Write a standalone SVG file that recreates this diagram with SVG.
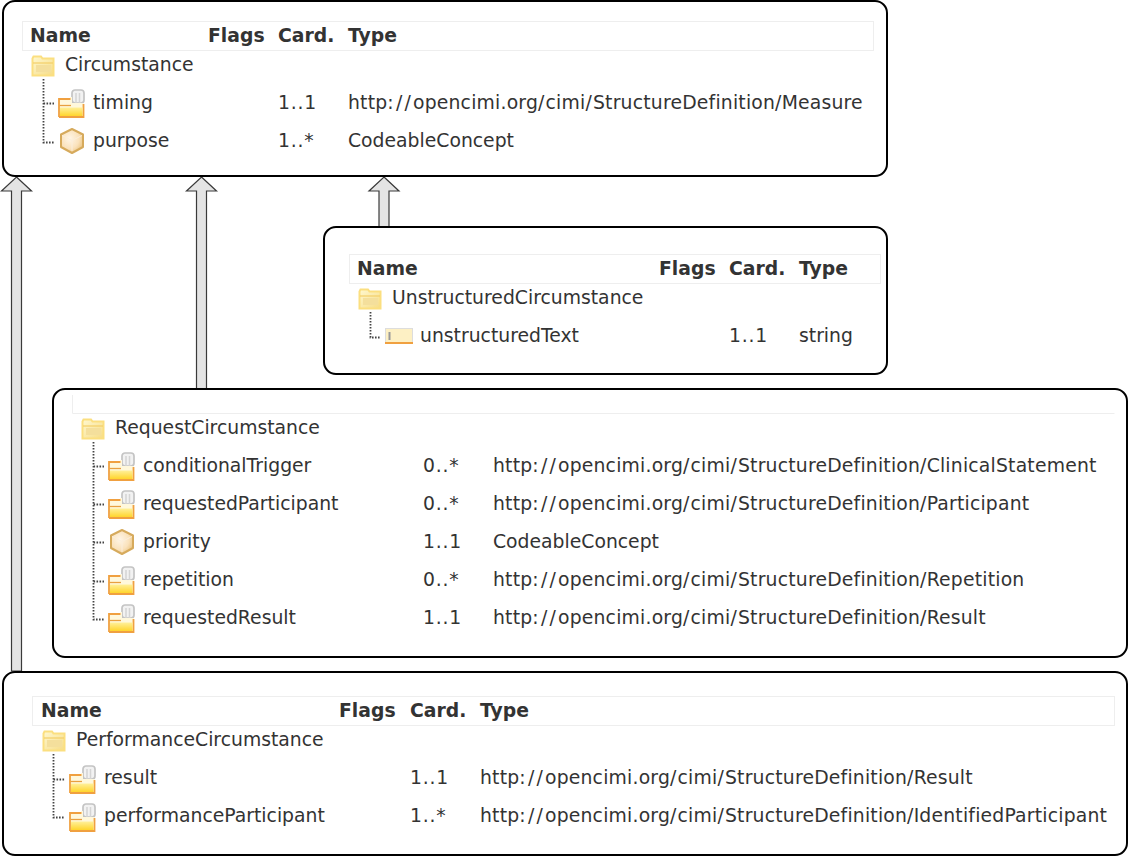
<svg xmlns="http://www.w3.org/2000/svg" xmlns:xlink="http://www.w3.org/1999/xlink" width="1128" height="856" viewBox="0 0 1128 856">
<style>
text{font-family:"DejaVu Sans",Verdana,sans-serif;font-size:18.8px;fill:#333}
.h{font-weight:700;font-size:18.8px}
.c{letter-spacing:.75px}
.u{letter-spacing:.2px}
.box{fill:#fff;stroke:#000;stroke-width:2}
.hdr{fill:#fff;stroke:#eee;stroke-width:1}
.arr{fill:#e4e4e4;stroke:#3a3a3a;stroke-width:1.200}
.dot{fill:none;stroke:#444;stroke-width:1.800;stroke-dasharray:1.600 1.400}
</style>
<defs>
<linearGradient id="fy" x1="0" y1="0" x2="1" y2="1"><stop offset="0" stop-color="#fff8cf"/><stop offset="1" stop-color="#f6dc86"/></linearGradient>
<linearGradient id="fo" x1="0" y1="0" x2="0" y2="1"><stop offset="0" stop-color="#fff09a"/><stop offset="1" stop-color="#ffd52c"/></linearGradient>
<radialGradient id="cb" cx="0.400" cy="0.400" r="0.700"><stop offset="0" stop-color="#fff5e6"/><stop offset="0.600" stop-color="#fae2bc"/><stop offset="1" stop-color="#e8c078"/></radialGradient>
<symbol id="folder" width="24" height="22" viewBox="0 0 24 22" overflow="visible">
<path d="M1.500 3.500 L2.500 1.500 H10 L11.500 3.500 H22.500 V20.500 H1.500Z" fill="url(#fy)" stroke="#fbdf80" stroke-width="2"/>
<path d="M2 8 H22" fill="none" stroke="#f3cf68" stroke-width="1.200"/>
<path d="M5 10 H20 V17 H5Z" fill="#f4df9c"/>
</symbol>
<symbol id="ref" width="28" height="30" viewBox="0 0 28 30" overflow="visible">
<rect x="14" y="1" width="12" height="13" rx="3" fill="#f2f2f2" stroke="#c4c4c4" stroke-width="1.700"/>
<path d="M18 4 V14 M21.500 4 V14" stroke="#d4d4d4" stroke-width="1.500"/>
<path d="M1 9.500 H12 V8 H14 V14 H25.500 V28 H1Z" fill="#fff8dc"/>
<path d="M1 28 V10 H12.500 M25.500 15 V28 H1" fill="none" stroke="#f0a040" stroke-width="1.800"/>
<path d="M2 18.500 H24.500 V27 H2Z" fill="url(#fo)"/>
<path d="M1.500 16.500 H13" stroke="#e8a040" stroke-width="1.300"/>
</symbol>
<symbol id="cube" width="26" height="26" viewBox="0 0 26 26" overflow="visible">
<path d="M13 1 L24 6.500 V19 L13 25 L2 19 V6.500Z" fill="url(#cb)" stroke="#d6aa5c" stroke-width="2" stroke-linejoin="round"/>
<path d="M3 7.500 L13 12.500 L23 7.500 M13 12.500 V23" fill="none" stroke="#fbeedb" stroke-width="1"/>
</symbol>
<symbol id="prim" width="28" height="16" viewBox="0 0 28 16" overflow="visible">
<rect x="0.500" y="0.500" width="27" height="15" fill="#fdf0c4" stroke="#ddd" stroke-width="1"/>
<path d="M0 15 H28" stroke="#f0a040" stroke-width="2"/>
<path d="M4.500 4 V12" stroke="#999" stroke-width="2"/>
</symbol>
</defs>
<g id="connectors">
<path class="arr" d="M16.500 177 L31.500 191 H21.500 V671 H11.500 V191 H1.500Z"/>
<path class="arr" d="M201.500 177 L216.500 191 H206.500 V389 H196.500 V191 H186.500Z"/>
<path class="arr" d="M384 177 L399 191 H389 V227 H379 V191 H369Z"/>
</g>
<g id="Circumstance">
<rect class="box" x="3" y="1" width="884" height="175" rx="12"/>
<rect class="hdr" x="22.500" y="21.500" width="851" height="29"/>
<text class="h" x="30" y="42">Name</text><text class="h" x="208" y="42">Flags</text><text class="h" x="278" y="42">Card.</text><text class="h" x="348" y="42">Type</text>
<use xlink:href="#folder" href="#folder" x="31" y="55"/>
<text x="65" y="71">Circumstance</text>
<path class="dot" d="M43.500 79 V142.500 H54 M43.500 103.500 H54"/>
<use xlink:href="#ref" href="#ref" x="58" y="89"/>
<text x="93" y="109">timing</text><text class="c" x="278" y="109">1..1</text><text class="u" x="348" y="109">http:<tspan dx="2">/</tspan><tspan dx="2">/</tspan><tspan dx="2">opencimi.org/</tspan><tspan dx="1">cimi/</tspan><tspan dx="1">StructureDefinition/</tspan>Measure</text>
<use xlink:href="#cube" href="#cube" x="59" y="128"/>
<text x="93" y="147">purpose</text><text class="c" x="278" y="147">1..*</text><text x="348" y="147">CodeableConcept</text>
</g>
<g id="UnstructuredCircumstance">
<rect class="box" x="324" y="227" width="563" height="147" rx="12"/>
<rect class="hdr" x="349.500" y="254.500" width="531" height="29"/>
<text class="h" x="357" y="275">Name</text><text class="h" x="659" y="275">Flags</text><text class="h" x="729" y="275">Card.</text><text class="h" x="799" y="275">Type</text>
<use xlink:href="#folder" href="#folder" x="358" y="288"/>
<text x="392" y="304">UnstructuredCircumstance</text>
<path class="dot" d="M370.500 312 V337.500 H381"/>
<use xlink:href="#prim" href="#prim" x="385" y="328"/>
<text x="420" y="342">unstructuredText</text><text class="c" x="729" y="342">1..1</text><text x="799" y="342">string</text>
</g>
<g id="RequestCircumstance">
<rect class="box" x="53" y="389" width="1074" height="268" rx="12"/>
<path class="hdr" fill="none" d="M72.500 395 V413.500 H1114.500"/>
<use xlink:href="#folder" href="#folder" x="81" y="418"/>
<text x="115" y="434">RequestCircumstance</text>
<path class="dot" d="M93.500 442 V619.500 H104 M93.500 466.500 H104 M93.500 504.500 H104 M93.500 542.500 H104 M93.500 581.500 H104"/>
<use xlink:href="#ref" href="#ref" x="108" y="452"/>
<text x="143" y="472">conditionalTrigger</text><text class="c" x="423" y="472">0..*</text><text class="u" x="493" y="472">http:<tspan dx="2">/</tspan><tspan dx="2">/</tspan><tspan dx="2">opencimi.org/</tspan><tspan dx="1">cimi/</tspan><tspan dx="1">StructureDefinition/</tspan>ClinicalStatement</text>
<use xlink:href="#ref" href="#ref" x="108" y="490"/>
<text x="143" y="510">requestedParticipant</text><text class="c" x="423" y="510">0..*</text><text class="u" x="493" y="510">http:<tspan dx="2">/</tspan><tspan dx="2">/</tspan><tspan dx="2">opencimi.org/</tspan><tspan dx="1">cimi/</tspan><tspan dx="1">StructureDefinition/</tspan>Participant</text>
<use xlink:href="#cube" href="#cube" x="109" y="529"/>
<text x="143" y="548">priority</text><text class="c" x="423" y="548">1..1</text><text x="493" y="548">CodeableConcept</text>
<use xlink:href="#ref" href="#ref" x="108" y="566"/>
<text x="143" y="586">repetition</text><text class="c" x="423" y="586">0..*</text><text class="u" x="493" y="586">http:<tspan dx="2">/</tspan><tspan dx="2">/</tspan><tspan dx="2">opencimi.org/</tspan><tspan dx="1">cimi/</tspan><tspan dx="1">StructureDefinition/</tspan>Repetition</text>
<use xlink:href="#ref" href="#ref" x="108" y="604"/>
<text x="143" y="624">requestedResult</text><text class="c" x="423" y="624">1..1</text><text class="u" x="493" y="624">http:<tspan dx="2">/</tspan><tspan dx="2">/</tspan><tspan dx="2">opencimi.org/</tspan><tspan dx="1">cimi/</tspan><tspan dx="1">StructureDefinition/</tspan>Result</text>
</g>
<g id="PerformanceCircumstance">
<rect class="box" x="3" y="672" width="1124" height="183" rx="12"/>
<rect class="hdr" x="32.500" y="696.500" width="1082" height="29"/>
<text class="h" x="41" y="717">Name</text><text class="h" x="339" y="717">Flags</text><text class="h" x="410" y="717">Card.</text><text class="h" x="480" y="717">Type</text>
<use xlink:href="#folder" href="#folder" x="42" y="730"/>
<text x="76" y="746">PerformanceCircumstance</text>
<path class="dot" d="M53.500 754 V817.500 H65 M53.500 779.500 H65"/>
<use xlink:href="#ref" href="#ref" x="69" y="765"/>
<text x="104" y="784">result</text><text class="c" x="410" y="784">1..1</text><text class="u" x="480" y="784">http:<tspan dx="2">/</tspan><tspan dx="2">/</tspan><tspan dx="2">opencimi.org/</tspan><tspan dx="1">cimi/</tspan><tspan dx="1">StructureDefinition/</tspan>Result</text>
<use xlink:href="#ref" href="#ref" x="69" y="803"/>
<text x="104" y="822">performanceParticipant</text><text class="c" x="410" y="822">1..*</text><text class="u" x="480" y="822">http:<tspan dx="2">/</tspan><tspan dx="2">/</tspan><tspan dx="2">opencimi.org/</tspan><tspan dx="1">cimi/</tspan><tspan dx="1">StructureDefinition/</tspan>IdentifiedParticipant</text>
</g>
</svg>
